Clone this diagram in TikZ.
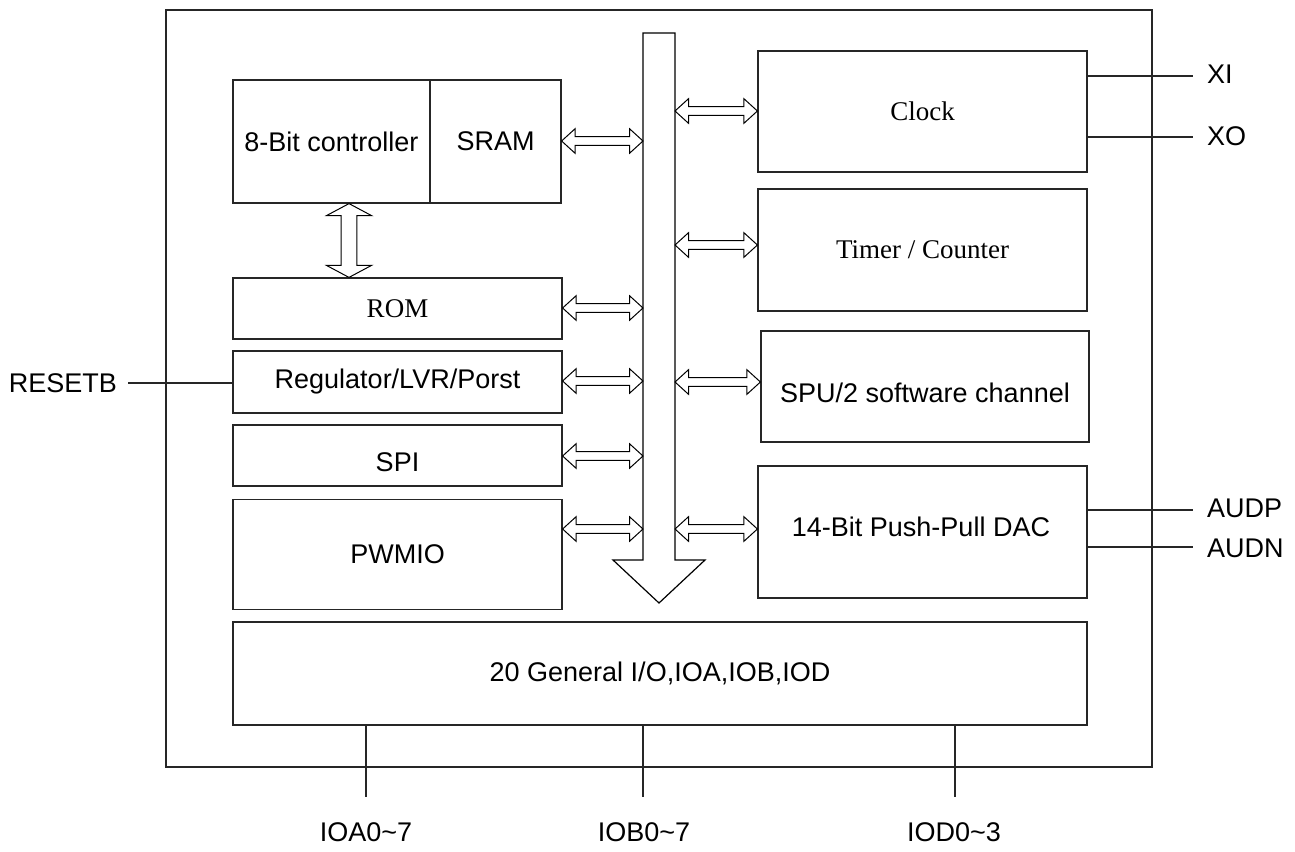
\documentclass[tikz,border=0pt]{standalone}
\usepackage{fontspec}
\setmainfont{Liberation Sans}
\newfontfamily\tmsfont{Liberation Serif}
\usetikzlibrary{calc}
\tikzset{
  blk/.style={draw=black!85, line width=1.2pt, inner sep=0pt, fill=white,
    font=\fontsize{27}{32}\selectfont},
  tms/.style={font=\tmsfont\fontsize{27}{32}\selectfont},
  lbl/.style={inner sep=0pt, font=\fontsize{27}{32}\selectfont},
  wire/.style={draw=black!85, line width=1.2pt},
  dbl/.style={draw=black, line width=1pt, fill=white, line join=miter},
}
\newcommand\harr[2]{\draw[dbl] (#1) -- ++(13.5,-12.3) -- ++(0,7.9) -- ($(#2)+(-13.5,-4.4)$) -- ++(0,-7.9) -- (#2) -- ++(-13.5,12.3) -- ++(0,-7.9) -- ($(#1)+(13.5,4.4)$) -- ++(0,7.9) -- cycle;}
\newcommand\varr[2]{\draw[dbl] (#1) -- ++(22.5,12) -- ++(-14.7,0) -- ($(#2)+(7.8,-12)$) -- ++(14.7,0) -- (#2) -- ++(-22.5,-12) -- ++(14.7,0) -- ($(#1)+(-7.8,12)$) -- ++(-14.7,0) -- cycle;}
\begin{document}
\begin{tikzpicture}[x=1pt,y=-1pt]
\useasboundingbox (0,0) rectangle (1295,851);
\fill[white] (0,0) rectangle (1295,851);
% outer chip box
\node[blk, fill=none, minimum width=986pt, minimum height=757pt] (chip) at (659,388.5) {};
% left column
\node[blk, minimum width=197pt, minimum height=123pt] (ctrl) at (331.5,141.5) {8-Bit controller};
\node[blk, minimum width=131pt, minimum height=123pt] (sram) at (495.5,141.5) {SRAM};
\node[blk, tms, minimum width=329pt, minimum height=61pt] (rom) at (397.5,308.5) {ROM};
\node[blk, minimum width=329pt, minimum height=62pt] (reg) at (397.5,382) {Regulator/LVR/Porst};
\node[blk, minimum width=329pt, minimum height=61pt] (spi) at (397.5,455.5) {};
\node[lbl] (spit) at (397.5,462) {SPI};
\node[blk, minimum width=329pt, minimum height=110pt] (pwm) at (397.5,554.5) {PWMIO};
% right column
\node[blk, tms, minimum width=329pt, minimum height=121pt] (clk) at (922.5,111.5) {Clock};
\node[blk, tms, minimum width=329pt, minimum height=122pt] (tmr) at (922.5,250) {Timer / Counter};
\node[blk, minimum width=328pt, minimum height=111pt] (spu) at (925,386.5) {};
\node[lbl] (sput) at (925,393) {SPU/2 software channel};
\node[blk, minimum width=329pt, minimum height=132pt] (dac) at (922.5,532) {};
\node[lbl] (dact) at (921,527) {14-Bit Push-Pull DAC};
% general IO
\node[blk, minimum width=854pt, minimum height=103pt] (gio) at (660,673.5) {20 General I/O,IOA,IOB,IOD};
% bus
\coordinate (busL) at (643,0);
\coordinate (busR) at (675,0);
\draw[dbl, line width=1.2pt] (643,33) -- (675,33) -- (675,560) -- (705,560) -- (659,603) -- (613,560) -- (643,560) -- cycle;
% bus arrows
\harr{sram.east |- 0,141}{busL |- 0,141}
\harr{rom.east |- 0,308}{busL |- 0,308}
\harr{reg.east |- 0,381}{busL |- 0,381}
\harr{spi.east |- 0,456}{busL |- 0,456}
\harr{pwm.east |- 0,529}{busL |- 0,529}
\harr{busR |- 0,111}{clk.west |- 0,111}
\harr{busR |- 0,245}{tmr.west |- 0,245}
\harr{busR |- 0,382}{spu.west |- 0,382}
\harr{busR |- 0,529}{dac.west |- 0,529}
\varr{ctrl.south -| 349,0}{rom.north -| 349,0}
% external pins
\coordinate (xi) at (1193,76);
\coordinate (xo) at (1193,137);
\coordinate (ap) at (1193,510);
\coordinate (an) at (1193,547);
\draw[wire] (clk.east |- xi) -- (xi);
\draw[wire] (clk.east |- xo) -- (xo);
\draw[wire] (dac.east |- ap) -- (ap);
\draw[wire] (dac.east |- an) -- (an);
\node[lbl, anchor=west] (xil) at (1207,74) {XI};
\node[lbl, anchor=west] (xol) at (1207,136) {XO};
\node[lbl, anchor=west] (apl) at (1207,508) {AUDP};
\node[lbl, anchor=west] (anl) at (1207,548) {AUDN};
\coordinate (rs) at (128,383);
\draw[wire] (rs) -- (reg.west |- rs);
\node[lbl, anchor=east] (rsl) at (117,383) {RESETB};
\coordinate (pa) at (366,797);
\coordinate (pb) at (643,797);
\coordinate (pd) at (955,797);
\draw[wire] (gio.south -| pa) -- (pa);
\draw[wire] (gio.south -| pb) -- (pb);
\draw[wire] (gio.south -| pd) -- (pd);
\node[lbl] (pal) at (366,832) {IOA0\char`~7};
\node[lbl] (pbl) at (644,832) {IOB0\char`~7};
\node[lbl] (pdl) at (954,832) {IOD0\char`~3};
\end{tikzpicture}
\end{document}
